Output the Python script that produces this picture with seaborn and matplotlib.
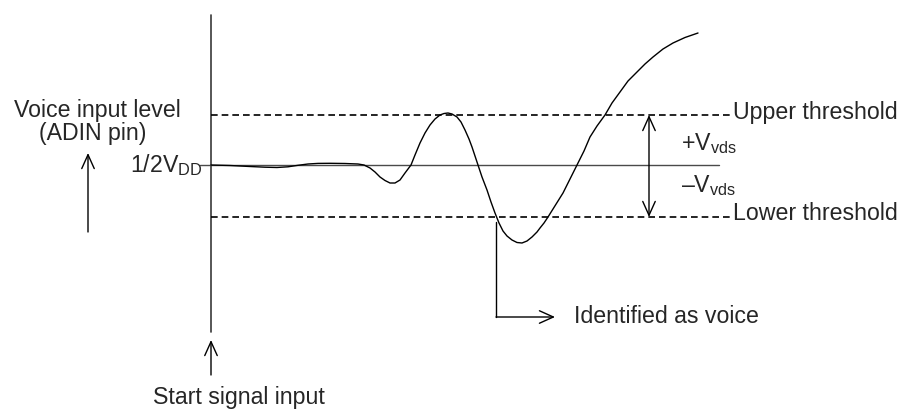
import matplotlib
matplotlib.use("Agg")
import matplotlib.pyplot as plt
import seaborn as sns
import pandas as pd

# ---- data (pixel-space diagram coordinates) ----
wave_x = [211, 230, 250, 265, 277, 288, 298, 308, 318, 330, 345, 358, 364, 370, 375,
          380, 385, 390, 395, 400, 405, 408, 411, 415, 420, 425, 430, 435, 440, 444, 448,
          452, 457, 461, 465, 469, 472, 475, 478, 482, 487, 491, 495, 499, 503, 507, 512,
          517, 522, 527, 532, 537, 540, 544, 548, 553, 558, 563, 570, 577, 584, 590, 597,
          605, 612, 620, 628, 637, 645, 653, 663, 673, 685, 698]
wave_y = [165, 165.5, 166.5, 167.2, 167.5, 166.8, 165.3, 164, 163.4, 163.3, 163.5, 164, 165, 168, 172,
          177, 180.5, 183, 183, 180, 173, 169, 165, 155, 143, 133, 125, 119, 115, 113.5, 113,
          114, 117, 122, 130, 139, 147, 156, 165, 177, 190, 202, 213, 223, 231, 236, 240,
          242.5, 243, 241, 237, 232, 228, 223, 217, 209, 201, 193, 179, 165, 151, 137, 126,
          115, 103, 92, 81, 72, 64, 57, 49, 43, 37.5, 33]

mid_level = 165
upper_level = 115
lower_level = 217
start_x = 211
detect_x = 496

labels_left = ["Voice input level", "(ADIN pin)"]
label_mid = r"1/2V$_\mathregular{DD}$"
label_upper = "Upper threshold"
label_lower = "Lower threshold"
label_plus = r"+V$_\mathregular{vds}$"
label_minus = r"–V$_\mathregular{vds}$"
label_detect = "Identified as voice"
label_start = "Start signal input"

sns.set_theme(style="white")
plt.rcParams["font.family"] = ["Liberation Sans", "DejaVu Sans"]
plt.rcParams["mathtext.fontset"] = "custom"
plt.rcParams["mathtext.rm"] = "Liberation Sans"
plt.rcParams["mathtext.it"] = "Liberation Sans"
plt.rcParams["mathtext.default"] = "regular"

fig = plt.figure(figsize=(9.04, 4.09), dpi=100)
ax = fig.add_axes([0, 0, 1, 1])

FS = 16.7
black = "black"

# start axis line
ax.plot([start_x, start_x], [15, 332], color="#3a3a3a", lw=1.2)
# mid level
ax.plot([200, 719], [mid_level, mid_level], color="#4a4a4a", lw=1.0)
# thresholds
for yv in (upper_level, lower_level):
    ax.plot([start_x, 733], [yv, yv], color=black, lw=1.2, linestyle=(0, (4, 2.4)))

# waveform
df = pd.DataFrame({"x": wave_x, "y": wave_y})
sns.lineplot(data=df, x="x", y="y", ax=ax, color=black, lw=1.0, sort=False, estimator=None)
ax.set_xlim(0, 904)
ax.set_ylim(409, 0)
ax.axis("off")

ap = dict(arrowstyle="->,head_length=1.0,head_width=0.45", lw=1.0, color=black,
          mutation_scale=10, shrinkA=0, shrinkB=0)
ap2 = dict(arrowstyle="<->,head_length=1.0,head_width=0.45", lw=1.0, color=black,
           mutation_scale=10, shrinkA=0, shrinkB=0)

# left up arrow
ax.annotate("", xy=(88, 153), xytext=(88, 232), arrowprops=ap)
# start arrow
ax.annotate("", xy=(start_x, 340), xytext=(start_x, 375), arrowprops=ap)
# double arrow
ax.annotate("", xy=(649, upper_level), xytext=(649, lower_level), arrowprops=ap2)
# detection
ax.plot([detect_x, detect_x], [222, 317], color=black, lw=1.0)
ax.annotate("", xy=(555, 317), xytext=(detect_x, 317), arrowprops=ap)

# texts
ax.text(97, 117, labels_left[0], fontsize=FS, ha="center", va="baseline")
ax.text(93, 140, labels_left[1], fontsize=FS, ha="center", va="baseline")
ax.text(202, 172, label_mid, fontsize=FS, ha="right", va="baseline")
ax.text(733, 119, label_upper, fontsize=FS, ha="left", va="baseline")
ax.text(733, 220, label_lower, fontsize=FS, ha="left", va="baseline")
ax.text(681, 150, label_plus, fontsize=FS, ha="left", va="baseline")
ax.text(681, 192, label_minus, fontsize=FS, ha="left", va="baseline")
ax.text(574, 323, label_detect, fontsize=FS, ha="left", va="baseline")
ax.text(153, 404, label_start, fontsize=FS, ha="left", va="baseline")

fig.savefig("out.png", dpi=100, facecolor="white")
